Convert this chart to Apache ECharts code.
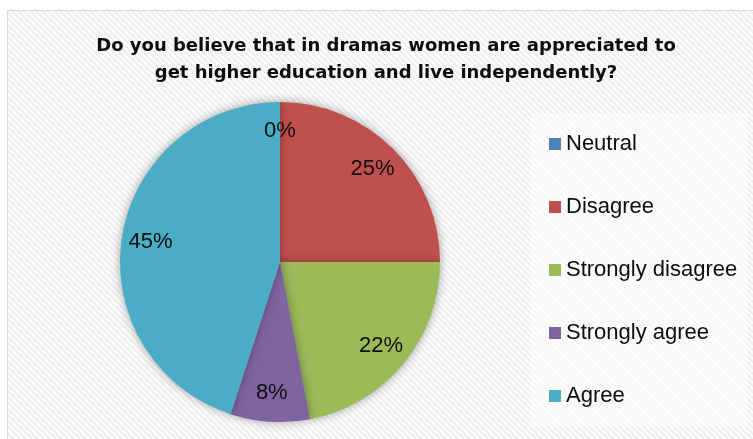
<!DOCTYPE html>
<html>
<head>
<meta charset="utf-8">
<script src="https://cdn.jsdelivr.net/npm/echarts@6/dist/echarts.min.js"></script>
<style>
  html, body { margin: 0; padding: 0; background: #ffffff; }
  #chart { width: 753px; height: 439px; }
</style>
</head>
<body>
<div id="chart"></div>
<script>
// Survey answers and their shares (percent)
const categories = ['Neutral', 'Disagree', 'Strongly disagree', 'Strongly agree', 'Agree'];
const shares = [0, 25, 22, 8, 45];
const sliceColors = ['#4f81bd', '#c0504d', '#9bbb59', '#8064a2', '#4bacc6'];
const titleText = 'Do you believe that in dramas women are appreciated to\nget higher education and live independently?';

// Diagonal hatch tile used for the plot background
function makeHatch(a, b, period) {
  const c = document.createElement('canvas');
  c.width = period; c.height = period;
  const ctx = c.getContext('2d');
  const img = ctx.createImageData(period, period);
  const pa = [parseInt(a.slice(1, 3), 16), parseInt(a.slice(3, 5), 16), parseInt(a.slice(5, 7), 16)];
  const pb = [parseInt(b.slice(1, 3), 16), parseInt(b.slice(3, 5), 16), parseInt(b.slice(5, 7), 16)];
  for (let y = 0; y < period; y++) {
    for (let x = 0; x < period; x++) {
      const k = (((x - y) % period) + period) % period;
      const p = k < period / 2 ? pa : pb;
      const i = (y * period + x) * 4;
      img.data[i] = p[0]; img.data[i + 1] = p[1]; img.data[i + 2] = p[2]; img.data[i + 3] = 255;
    }
  }
  ctx.putImageData(img, 0, 0);
  return c;
}
const hatchOuter = makeHatch('#efefef', '#fbfbfb', 6);
const hatchInner = makeHatch('#f7f7f7', '#fdfdfd', 6);

const pieData = categories.map((name, i) => ({
  name, value: shares[i], itemStyle: { color: sliceColors[i] }
}));

const chart = echarts.init(document.getElementById('chart'), null, { renderer: 'canvas' });
chart.setOption({
  animation: false,
  backgroundColor: '#ffffff',
  graphic: [
    {
      type: 'rect', z: -10, silent: true,
      shape: { x: 7.5, y: 10.5, width: 760, height: 440 },
      style: { fill: { image: hatchOuter, repeat: 'repeat' }, stroke: '#d9d9d9', lineWidth: 1 }
    },
    {
      type: 'rect', z: -9, silent: true,
      shape: { x: 531, y: 113, width: 217, height: 314 },
      style: { fill: { image: hatchInner, repeat: 'repeat' } }
    }
  ],
  title: {
    text: titleText,
    left: 381,
    top: 28,
    textAlign: 'center',
    textStyle: {
      fontFamily: 'DejaVu Sans, Verdana, sans-serif',
      fontWeight: 'bold',
      fontSize: 18,
      lineHeight: 27,
      color: '#0d0d0d'
    }
  },
  legend: {
    orient: 'vertical',
    left: 531,
    top: 113,
    padding: [20, 10, 20, 18],
    itemWidth: 12,
    itemHeight: 12,
    itemGap: 41,
    itemStyle: { borderWidth: 0 },
    icon: 'rect',
    textStyle: {
      fontFamily: 'Liberation Sans, Arial, sans-serif',
      fontSize: 22,
      lineHeight: 22,
      color: '#0d0d0d',
      padding: [0, 0, 0, 0]
    },
    data: categories
  },
  series: [
    {
      type: 'pie',
      center: [280, 262],
      radius: 160,
      startAngle: 90,
      clockwise: true,
      avoidLabelOverlap: false,
      minShowLabelAngle: -1,
      label: { show: false },
      labelLine: { show: false },
      emphasis: { disabled: true },
      itemStyle: {
        borderWidth: 0,
        shadowBlur: 10,
        shadowColor: 'rgba(0,0,0,0.35)'
      },
      data: pieData
    },
    {
      // transparent ring that carries the percentage labels
      type: 'pie',
      center: [280, 262],
      radius: [96, 160],
      startAngle: 90,
      clockwise: true,
      silent: true,
      avoidLabelOverlap: false,
      stillShowZeroSum: true,
      minShowLabelAngle: -1,
      emphasis: { disabled: true },
      itemStyle: { color: 'rgba(0,0,0,0)', borderWidth: 0 },
      label: {
        show: true,
        position: 'inside',
        formatter: p => p.value + '%',
        fontFamily: 'Liberation Sans, Arial, sans-serif',
        fontSize: 22,
        color: '#0d0d0d'
      },
      labelLine: { show: false },
      data: categories.map((name, i) => ({ name, value: shares[i] }))
    }
  ]
});
</script>
</body>
</html>
